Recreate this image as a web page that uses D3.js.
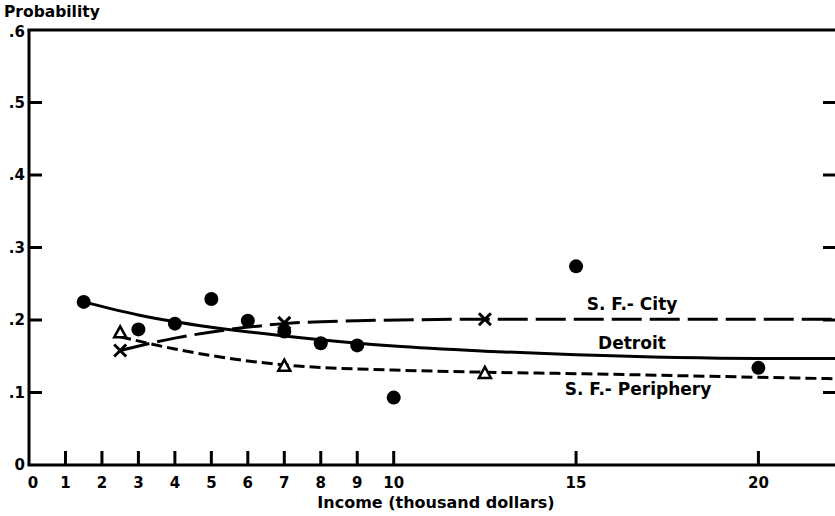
<!DOCTYPE html>
<html><head><meta charset="utf-8">
<script src="https://cdn.jsdelivr.net/npm/d3@7"></script>
<style>body{margin:0;background:#fff}svg{display:block}text{font-family:"DejaVu Sans",sans-serif;font-weight:bold;fill:#000}</style>
</head><body><svg id="c" width="835" height="516"></svg>
<script>
// Observed points
const detroitX = [1.5, 3, 4, 5, 6, 7, 8, 9, 10, 15, 20];
const detroitY = [0.225, 0.187, 0.195, 0.229, 0.199, 0.184, 0.168, 0.165, 0.093, 0.274, 0.134];
const cityX = [2.5, 7, 12.5];
const cityY = [0.158, 0.196, 0.201];
const periX = [2.5, 7, 12.5];
const periY = [0.183, 0.137, 0.127];
// Fitted curves
const detroitFitX = [1.5, 3, 5, 7, 10, 12.5, 15, 20, 22.1];
const detroitFitY = [0.225, 0.207, 0.190, 0.178, 0.164, 0.157, 0.152, 0.147, 0.147];
const cityFitX = [2.5, 4, 5.5, 7, 9, 12.5, 22.1];
const cityFitY = [0.158, 0.175, 0.187, 0.195, 0.199, 0.201, 0.201];
const periFitX = [2.5, 4, 5.5, 7, 10, 12.5, 15, 20, 22.1];
const periFitY = [0.177, 0.160, 0.147, 0.138, 0.131, 0.128, 0.126, 0.121, 0.119];
// Ticks
const xTicks = [0, 1, 2, 3, 4, 5, 6, 7, 8, 9, 10, 15, 20];
const yTicks = [0, 0.1, 0.2, 0.3, 0.4, 0.5, 0.6];
const yTickLabels = ["0", ".1", ".2", ".3", ".4", ".5", ".6"];
const seriesLabels = ["S. F.- City", "Detroit", "S. F.- Periphery"];

const svg = d3.select("#c");
const x = d3.scaleLinear().domain([0, 22.1]).range([29, 835]);
const y = d3.scaleLinear().domain([0, 0.6]).range([465, 30]);
const sw = 3;

// frame: left axis, bottom axis, top line
svg.append("line").attr("x1", x(0)).attr("x2", x(0)).attr("y1", y(0.6)).attr("y2", y(0)).attr("stroke", "#000").attr("stroke-width", sw);
svg.append("line").attr("x1", x(0)-1.5).attr("x2", 835).attr("y1", y(0)).attr("y2", y(0)).attr("stroke", "#000").attr("stroke-width", sw);
svg.append("line").attr("x1", x(0)-1.5).attr("x2", 835).attr("y1", y(0.6)).attr("y2", y(0.6)).attr("stroke", "#000").attr("stroke-width", sw);

// y ticks left and right
yTicks.forEach((t, i) => {
  if (t > 0 && t < 0.6) {
    svg.append("line").attr("x1", x(0)).attr("x2", x(0)+13).attr("y1", y(t)).attr("y2", y(t)).attr("stroke", "#000").attr("stroke-width", sw);
    svg.append("line").attr("x1", 823).attr("x2", 835).attr("y1", y(t)).attr("y2", y(t)).attr("stroke", "#000").attr("stroke-width", sw);
  }
  svg.append("text").attr("x", x(0)-4).attr("y", y(t) + (t === 0.6 ? 2 : 0)).attr("dy", "0.36em").attr("text-anchor", "end").attr("font-size", 15).text(yTickLabels[i]);
});

// x ticks
xTicks.forEach(t => {
  if (t > 0) svg.append("line").attr("x1", x(t)).attr("x2", x(t)).attr("y1", y(0)).attr("y2", y(0)-14).attr("stroke", "#000").attr("stroke-width", sw);
  svg.append("text").attr("x", t === 0 ? x(t)+4 : x(t)).attr("y", 488).attr("text-anchor", "middle").attr("font-size", 15).text(t);
});

svg.append("text").attr("x", 436).attr("y", 508).attr("text-anchor", "middle").attr("font-size", 16).text("Income (thousand dollars)");
svg.append("text").attr("x", 4).attr("y", 17).attr("font-size", 15.5).text("Probability");

const line = d3.line().x(d => x(d[0])).y(d => y(d[1])).curve(d3.curveMonotoneX);
svg.append("path").datum(detroitFitX.map((v, i) => [v, detroitFitY[i]])).attr("d", line).attr("fill", "none").attr("stroke", "#000").attr("stroke-width", sw);
svg.append("path").datum(cityFitX.map((v, i) => [v, cityFitY[i]])).attr("d", line).attr("fill", "none").attr("stroke", "#000").attr("stroke-width", sw).attr("stroke-dasharray", "30,8");
svg.append("path").datum(periFitX.map((v, i) => [v, periFitY[i]])).attr("d", line).attr("fill", "none").attr("stroke", "#000").attr("stroke-width", sw).attr("stroke-dasharray", "11,5");

// markers
svg.selectAll("circle.d").data(detroitX.map((v, i) => [v, detroitY[i]])).join("circle")
  .attr("cx", d => x(d[0])).attr("cy", d => y(d[1])).attr("r", 7).attr("fill", "#000");
svg.selectAll("path.c").data(cityX.map((v, i) => [v, cityY[i]])).join("path")
  .attr("d", d => { const cx = x(d[0]), cy = y(d[1]), s = 6; return `M${cx-s},${cy-s}L${cx+s},${cy+s}M${cx+s},${cy-s}L${cx-s},${cy+s}`; })
  .attr("stroke", "#000").attr("stroke-width", 3).attr("fill", "none");
svg.selectAll("path.p").data(periX.map((v, i) => [v, periY[i]])).join("path")
  .attr("d", d => { const cx = x(d[0]), cy = y(d[1]), s = 6; return `M${cx},${cy-s}L${cx+s},${cy+s-1}L${cx-s},${cy+s-1}Z`; })
  .attr("stroke", "#000").attr("stroke-width", 2.5).attr("fill", "#fff");

// series labels
svg.append("text").attr("x", 632).attr("y", 310).attr("text-anchor", "middle").attr("font-size", 17).text(seriesLabels[0]);
svg.append("text").attr("x", 632).attr("y", 349).attr("text-anchor", "middle").attr("font-size", 17).text(seriesLabels[1]);
svg.append("text").attr("x", 638).attr("y", 395).attr("text-anchor", "middle").attr("font-size", 17).text(seriesLabels[2]);
</script></body></html>
